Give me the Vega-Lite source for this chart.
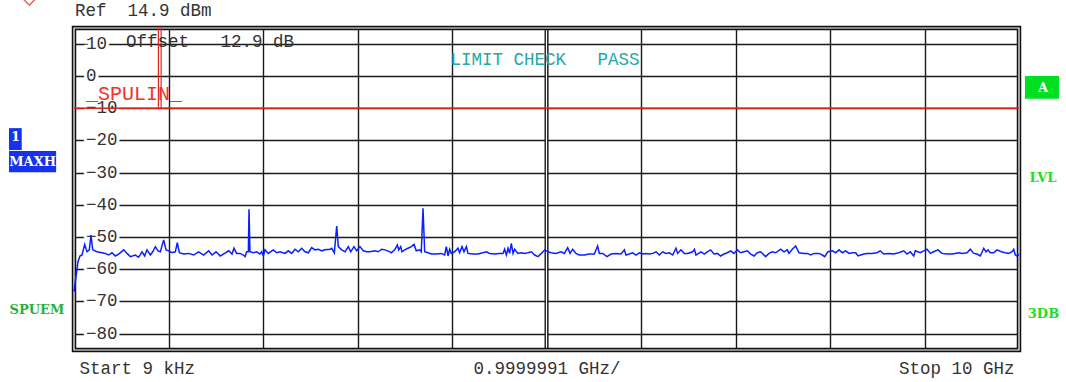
{
  "$schema": "https://vega.github.io/schema/vega-lite/v6.json",
  "width": 945,
  "height": 322,
  "autosize": {"type": "none"},
  "padding": {"left": 74, "top": 28, "right": 47, "bottom": 32},
  "background": "white",
  "config": {"view": {"stroke": null}},
  "datasets": {
    "trace": [
      {"f":0.000009,"d":-67.0},{"f":0.042,"d":-57.7},{"f":0.063,"d":-55.9},{"f":0.085,"d":-55.6},{"f":0.113,"d":-52.3},{"f":0.138,"d":-54.6},{"f":0.162,"d":-54.0},{"f":0.180,"d":-49.4},{"f":0.198,"d":-54.0},{"f":0.243,"d":-54.6},{"f":0.296,"d":-54.9},{"f":0.331,"d":-55.1},{"f":0.367,"d":-55.6},{"f":0.402,"d":-54.9},{"f":0.437,"d":-55.9},{"f":0.473,"d":-55.3},{"f":0.526,"d":-54.0},{"f":0.561,"d":-55.1},{"f":0.596,"d":-56.1},{"f":0.649,"d":-55.6},{"f":0.684,"d":-56.3},{"f":0.720,"d":-54.6},{"f":0.748,"d":-55.9},{"f":0.772,"d":-54.0},{"f":0.808,"d":-55.6},{"f":0.833,"d":-54.6},{"f":0.861,"d":-53.0},{"f":0.889,"d":-54.3},{"f":0.914,"d":-54.6},{"f":0.949,"d":-50.9},{"f":0.974,"d":-54.0},{"f":1.002,"d":-54.3},{"f":1.037,"d":-54.9},{"f":1.072,"d":-54.6},{"f":1.093,"d":-51.8},{"f":1.115,"d":-54.9},{"f":1.161,"d":-55.3},{"f":1.213,"d":-55.1},{"f":1.266,"d":-55.6},{"f":1.319,"d":-54.6},{"f":1.372,"d":-55.6},{"f":1.425,"d":-54.3},{"f":1.460,"d":-55.6},{"f":1.503,"d":-54.6},{"f":1.548,"d":-55.9},{"f":1.594,"d":-55.1},{"f":1.637,"d":-54.3},{"f":1.672,"d":-55.3},{"f":1.693,"d":-53.5},{"f":1.721,"d":-55.1},{"f":1.757,"d":-55.1},{"f":1.792,"d":-55.6},{"f":1.810,"d":-56.1},{"f":1.827,"d":-54.6},{"f":1.845,"d":-54.6},{"f":1.852,"d":-41.4},{"f":1.862,"d":-54.6},{"f":1.898,"d":-54.9},{"f":1.933,"d":-54.6},{"f":1.968,"d":-55.3},{"f":1.986,"d":-54.6},{"f":2.004,"d":-55.9},{"f":2.021,"d":-54.0},{"f":2.056,"d":-55.1},{"f":2.109,"d":-54.0},{"f":2.145,"d":-54.9},{"f":2.180,"d":-54.6},{"f":2.233,"d":-55.1},{"f":2.268,"d":-54.3},{"f":2.303,"d":-55.1},{"f":2.339,"d":-53.8},{"f":2.374,"d":-54.6},{"f":2.409,"d":-53.5},{"f":2.444,"d":-54.6},{"f":2.480,"d":-54.9},{"f":2.515,"d":-53.3},{"f":2.550,"d":-54.0},{"f":2.586,"d":-53.8},{"f":2.621,"d":-54.3},{"f":2.656,"d":-54.0},{"f":2.709,"d":-53.8},{"f":2.727,"d":-53.5},{"f":2.755,"d":-54.9},{"f":2.780,"d":-46.6},{"f":2.797,"d":-53.0},{"f":2.833,"d":-54.0},{"f":2.868,"d":-54.6},{"f":2.903,"d":-53.0},{"f":2.928,"d":-54.6},{"f":2.963,"d":-53.0},{"f":2.991,"d":-54.3},{"f":3.026,"d":-53.0},{"f":3.062,"d":-54.3},{"f":3.097,"d":-54.6},{"f":3.132,"d":-54.6},{"f":3.185,"d":-54.3},{"f":3.220,"d":-54.6},{"f":3.256,"d":-53.8},{"f":3.291,"d":-54.0},{"f":3.344,"d":-54.6},{"f":3.358,"d":-54.9},{"f":3.393,"d":-54.0},{"f":3.422,"d":-52.5},{"f":3.436,"d":-54.0},{"f":3.457,"d":-53.0},{"f":3.471,"d":-54.6},{"f":3.499,"d":-54.0},{"f":3.534,"d":-53.5},{"f":3.570,"d":-53.0},{"f":3.598,"d":-52.3},{"f":3.622,"d":-54.3},{"f":3.658,"d":-54.0},{"f":3.675,"d":-54.6},{"f":3.693,"d":-41.1},{"f":3.711,"d":-54.6},{"f":3.746,"d":-54.9},{"f":3.781,"d":-55.3},{"f":3.834,"d":-55.3},{"f":3.887,"d":-55.1},{"f":3.922,"d":-55.6},{"f":3.940,"d":-53.0},{"f":3.958,"d":-55.9},{"f":3.975,"d":-53.8},{"f":3.993,"d":-55.1},{"f":4.028,"d":-54.6},{"f":4.063,"d":-53.5},{"f":4.081,"d":-54.9},{"f":4.106,"d":-53.0},{"f":4.127,"d":-54.6},{"f":4.152,"d":-53.0},{"f":4.169,"d":-55.1},{"f":4.222,"d":-55.3},{"f":4.275,"d":-55.3},{"f":4.328,"d":-54.9},{"f":4.363,"d":-54.6},{"f":4.399,"d":-55.1},{"f":4.451,"d":-55.3},{"f":4.504,"d":-55.1},{"f":4.540,"d":-55.1},{"f":4.557,"d":-53.8},{"f":4.575,"d":-55.6},{"f":4.593,"d":-53.5},{"f":4.610,"d":-55.1},{"f":4.628,"d":-52.0},{"f":4.646,"d":-55.1},{"f":4.663,"d":-53.8},{"f":4.698,"d":-55.1},{"f":4.734,"d":-54.9},{"f":4.769,"d":-55.1},{"f":4.804,"d":-54.9},{"f":4.840,"d":-54.6},{"f":4.875,"d":-55.6},{"f":4.910,"d":-56.1},{"f":4.945,"d":-55.1},{"f":4.981,"d":-54.0},{"f":5.016,"d":-54.6},{"f":5.048,"d":-54.9},{"f":5.101,"d":-55.1},{"f":5.153,"d":-54.6},{"f":5.189,"d":-55.1},{"f":5.224,"d":-53.3},{"f":5.249,"d":-55.1},{"f":5.277,"d":-53.8},{"f":5.312,"d":-55.1},{"f":5.347,"d":-55.6},{"f":5.400,"d":-55.6},{"f":5.453,"d":-55.3},{"f":5.506,"d":-55.3},{"f":5.541,"d":-52.8},{"f":5.559,"d":-55.1},{"f":5.594,"d":-55.1},{"f":5.640,"d":-56.1},{"f":5.683,"d":-55.3},{"f":5.735,"d":-55.1},{"f":5.788,"d":-55.3},{"f":5.824,"d":-54.0},{"f":5.841,"d":-55.6},{"f":5.876,"d":-55.3},{"f":5.912,"d":-54.9},{"f":5.947,"d":-55.6},{"f":5.982,"d":-54.9},{"f":6.018,"d":-55.3},{"f":6.053,"d":-55.1},{"f":6.088,"d":-55.3},{"f":6.124,"d":-55.1},{"f":6.159,"d":-54.6},{"f":6.194,"d":-55.6},{"f":6.229,"d":-54.6},{"f":6.265,"d":-55.1},{"f":6.300,"d":-54.9},{"f":6.335,"d":-55.6},{"f":6.370,"d":-53.5},{"f":6.388,"d":-55.1},{"f":6.423,"d":-54.0},{"f":6.459,"d":-55.1},{"f":6.494,"d":-55.1},{"f":6.547,"d":-54.6},{"f":6.565,"d":-53.8},{"f":6.582,"d":-55.6},{"f":6.635,"d":-54.6},{"f":6.670,"d":-55.3},{"f":6.702,"d":-54.6},{"f":6.737,"d":-54.0},{"f":6.772,"d":-55.3},{"f":6.808,"d":-55.1},{"f":6.843,"d":-55.9},{"f":6.878,"d":-55.3},{"f":6.914,"d":-54.9},{"f":6.949,"d":-54.3},{"f":6.984,"d":-55.1},{"f":7.019,"d":-54.0},{"f":7.055,"d":-54.9},{"f":7.090,"d":-54.6},{"f":7.125,"d":-54.3},{"f":7.161,"d":-55.3},{"f":7.196,"d":-55.9},{"f":7.231,"d":-54.9},{"f":7.266,"d":-54.6},{"f":7.319,"d":-56.1},{"f":7.354,"d":-55.1},{"f":7.390,"d":-54.6},{"f":7.425,"d":-54.9},{"f":7.478,"d":-53.8},{"f":7.513,"d":-54.6},{"f":7.549,"d":-54.0},{"f":7.566,"d":-55.1},{"f":7.601,"d":-53.8},{"f":7.637,"d":-52.8},{"f":7.672,"d":-54.9},{"f":7.725,"d":-55.1},{"f":7.760,"d":-55.1},{"f":7.796,"d":-55.6},{"f":7.831,"d":-55.1},{"f":7.884,"d":-55.1},{"f":7.919,"d":-55.6},{"f":7.944,"d":-56.1},{"f":7.979,"d":-54.6},{"f":8.025,"d":-54.3},{"f":8.060,"d":-54.9},{"f":8.095,"d":-54.0},{"f":8.131,"d":-54.9},{"f":8.166,"d":-54.3},{"f":8.201,"d":-55.1},{"f":8.236,"d":-54.9},{"f":8.272,"d":-54.9},{"f":8.296,"d":-55.9},{"f":8.325,"d":-55.6},{"f":8.360,"d":-55.3},{"f":8.392,"d":-55.1},{"f":8.444,"d":-55.1},{"f":8.497,"d":-54.9},{"f":8.532,"d":-54.3},{"f":8.568,"d":-55.3},{"f":8.621,"d":-55.1},{"f":8.674,"d":-55.3},{"f":8.727,"d":-54.9},{"f":8.780,"d":-54.3},{"f":8.815,"d":-55.3},{"f":8.850,"d":-54.6},{"f":8.886,"d":-55.9},{"f":8.903,"d":-54.3},{"f":8.956,"d":-54.9},{"f":8.992,"d":-54.3},{"f":9.026,"d":-53.8},{"f":9.062,"d":-55.1},{"f":9.097,"d":-54.6},{"f":9.143,"d":-54.0},{"f":9.185,"d":-55.1},{"f":9.238,"d":-55.3},{"f":9.291,"d":-55.3},{"f":9.326,"d":-55.1},{"f":9.362,"d":-54.9},{"f":9.397,"d":-55.1},{"f":9.450,"d":-54.9},{"f":9.485,"d":-53.8},{"f":9.521,"d":-55.1},{"f":9.556,"d":-55.3},{"f":9.591,"d":-55.9},{"f":9.627,"d":-53.5},{"f":9.651,"d":-54.6},{"f":9.672,"d":-54.0},{"f":9.696,"d":-54.9},{"f":9.732,"d":-54.9},{"f":9.767,"d":-54.0},{"f":9.813,"d":-54.6},{"f":9.855,"d":-54.9},{"f":9.891,"d":-55.1},{"f":9.926,"d":-54.6},{"f":9.944,"d":-53.8},{"f":9.961,"d":-55.6},{"f":9.979,"d":-55.9},{"f":10.0,"d":-55.4}
    ],
    "ylabels": [{"f":0,"d":10},{"f":0,"d":0},{"f":0,"d":-10},{"f":0,"d":-20},{"f":0,"d":-30},{"f":0,"d":-40},{"f":0,"d":-50},{"f":0,"d":-60},{"f":0,"d":-70},{"f":0,"d":-80}],
    "frame": [{"f":0,"f2":10,"d":-85.1,"d2":14.9}],
    "center": [{"f":5,"d":-85.1,"d2":14.9}],
    "limitline": [{"f":0,"f2":10,"d":-10}],
    "redv": [{"f":0.893,"d":14.9,"d2":-10},{"f":0.922,"d":14.9,"d2":-10}],
    "notes": [{"t":"Ref\u00a0\u00a014.9\u00a0dBm","f":0.01,"d":20.2},{"t":"Offset\u00a0\u00a0\u00a012.9\u00a0dB","f":0.55,"d":10.5}],
    "limit": [{"t":"LIMIT\u00a0CHECK\u00a0\u00a0\u00a0PASS","f":3.984,"d":4.9}],
    "spulin": [{"t":"_SPULIN_","f":0.127,"d":-7.6}],
    "bluebox": [{"f":-0.688,"f2":-0.553,"d":-16.2,"d2":-23.0},{"f":-0.688,"f2":-0.189,"d":-23.3,"d2":-29.9}],
    "greenbox": [{"f":10.063,"f2":10.423,"d":0.0,"d2":-7.06}],
    "boxtext": [{"t":"1","f":-0.618,"d":-19.1},{"t":"MAXH","f":-0.438,"d":-26.6},{"t":"A","f":10.255,"d":-3.6}],
    "spuem": [{"t":"SPUEM","f":-0.392,"d":-72.6}],
    "rightlabels": [{"t":"LVL","f":10.254,"d":-31.8},{"t":"3DB","f":10.259,"d":-74.0}],
    "marker": [{"f":-0.473,"d":24.5}]
  },
  "encoding": {
    "x": {
      "field": "f", "type": "quantitative",
      "scale": {"domain": [0, 10], "nice": false, "zero": false},
      "axis": {
        "values": [0,1,2,3,4,5,6,7,8,9,10],
        "title": null, "grid": true, "gridColor": "#1a1a1a", "gridWidth": 1.4,
        "ticks": false, "domain": false,
        "labelExpr": "datum.value == 0 ? 'Start 9 kHz' : datum.value == 5 ? '0.9999991 GHz/' : datum.value == 10 ? 'Stop 10 GHz' : ''",
        "labelFont": "Liberation Mono", "labelFontSize": 17.5, "labelColor": "#333333",
        "labelFlush": true, "labelFlushOffset": -5, "labelOverlap": false, "labelBound": false,
        "labelPadding": 18, "labelBaseline": "middle"
      }
    },
    "y": {
      "field": "d", "type": "quantitative",
      "scale": {"domain": [-85.1, 14.9], "nice": false, "zero": false},
      "axis": {
        "values": [-80,-70,-60,-50,-40,-30,-20,-10,0,10],
        "title": null, "grid": true, "gridColor": "#1a1a1a", "gridWidth": 1.4,
        "labels": false, "ticks": false, "domain": false
      }
    }
  },
  "layer": [
    {
      "data": {"name": "ylabels"},
      "mark": {"type": "text", "align": "left", "baseline": "middle", "dx": 12, "font": "Liberation Mono", "fontSize": 17.5, "fill": "white", "stroke": "white", "strokeWidth": 6},
      "encoding": {"text": {"field": "d", "type": "quantitative", "format": "d"}}
    },
    {
      "data": {"name": "ylabels"},
      "mark": {"type": "text", "align": "left", "baseline": "middle", "dx": 12, "font": "Liberation Mono", "fontSize": 17.5, "fill": "#333333"},
      "encoding": {"text": {"field": "d", "type": "quantitative", "format": "d"}}
    },
    {
      "data": {"name": "center"},
      "mark": {"type": "rule", "color": "#1a1a1a", "strokeWidth": 4},
      "encoding": {"y2": {"field": "d2"}}
    },
    {
      "data": {"name": "center"},
      "mark": {"type": "rule", "color": "white", "strokeWidth": 1.2},
      "encoding": {"y2": {"field": "d2"}}
    },
    {
      "data": {"name": "frame"},
      "mark": {"type": "rect", "fillOpacity": 0, "stroke": "#111111", "strokeWidth": 4.5},
      "encoding": {"x2": {"field": "f2"}, "y2": {"field": "d2"}}
    },
    {
      "data": {"name": "frame"},
      "mark": {"type": "rect", "fillOpacity": 0, "stroke": "white", "strokeWidth": 1.2},
      "encoding": {"x2": {"field": "f2"}, "y2": {"field": "d2"}}
    },
    {
      "data": {"name": "limitline"},
      "mark": {"type": "rule", "color": "#d6261c", "strokeWidth": 1.5},
      "encoding": {"x2": {"field": "f2"}}
    },
    {
      "data": {"name": "redv"},
      "mark": {"type": "rule", "color": "#e0281e", "strokeWidth": 1.2},
      "encoding": {"y2": {"field": "d2"}}
    },
    {
      "data": {"name": "trace"},
      "mark": {"type": "line", "color": "#0a1fff", "strokeWidth": 1.5, "interpolate": "linear"}
    },
    {
      "data": {"name": "notes"},
      "mark": {"type": "text", "align": "left", "baseline": "middle", "font": "Liberation Mono", "fontSize": 17.5, "fill": "#333333"},
      "encoding": {"text": {"field": "t"}}
    },
    {
      "data": {"name": "limit"},
      "mark": {"type": "text", "align": "left", "baseline": "middle", "font": "Liberation Mono", "fontSize": 17.5, "fill": "#22a8a8"},
      "encoding": {"text": {"field": "t"}}
    },
    {
      "data": {"name": "spulin"},
      "mark": {"type": "text", "align": "left", "baseline": "alphabetic", "font": "Liberation Mono", "fontSize": 20, "fill": "#f0322a"},
      "encoding": {"text": {"field": "t"}}
    },
    {
      "data": {"name": "bluebox"},
      "mark": {"type": "rect", "fill": "#1432f0"},
      "encoding": {"x2": {"field": "f2"}, "y2": {"field": "d2"}}
    },
    {
      "data": {"name": "greenbox"},
      "mark": {"type": "rect", "fill": "#00e020"},
      "encoding": {"x2": {"field": "f2"}, "y2": {"field": "d2"}}
    },
    {
      "data": {"name": "boxtext"},
      "mark": {"type": "text", "align": "center", "baseline": "middle", "font": "DejaVu Serif", "fontWeight": "bold", "fontSize": 13, "fill": "white"},
      "encoding": {"text": {"field": "t"}}
    },
    {
      "data": {"name": "spuem"},
      "mark": {"type": "text", "align": "center", "baseline": "middle", "font": "DejaVu Serif", "fontWeight": "bold", "fontSize": 13, "fill": "#28b03c"},
      "encoding": {"text": {"field": "t"}}
    },
    {
      "data": {"name": "rightlabels"},
      "mark": {"type": "text", "align": "center", "baseline": "middle", "font": "DejaVu Serif", "fontWeight": "bold", "fontSize": 13, "fill": "#22dd22"},
      "encoding": {"text": {"field": "t"}}
    },
    {
      "data": {"name": "marker"},
      "mark": {"type": "point", "shape": "diamond", "size": 256, "filled": false, "color": "#e0281e", "strokeWidth": 1.5}
    }
  ]
}
